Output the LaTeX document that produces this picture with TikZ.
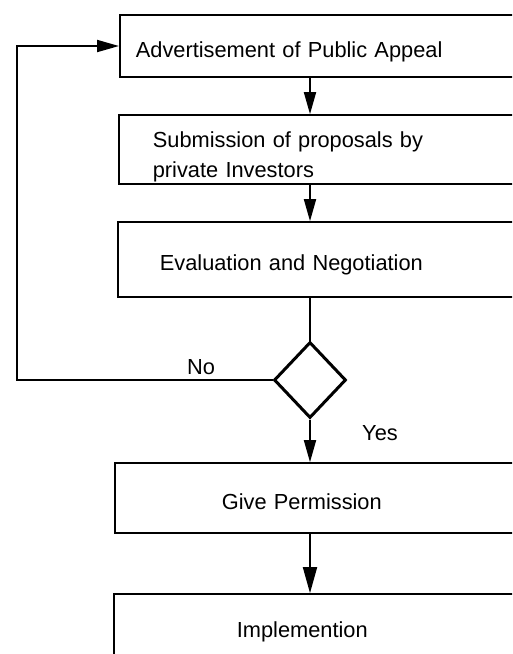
\documentclass[tikz,border=0pt]{standalone}
\usepackage{fontspec}
\setmainfont{Liberation Sans}
\usetikzlibrary{shapes.geometric,positioning,arrows.meta}

\begin{document}
\begin{tikzpicture}[x=1pt, y=-1pt, font=\fontsize{21.8}{30}\selectfont,
    box/.style={draw, rectangle, line width=1.7pt, anchor=west, align=left, text width=420pt, inner ysep=0pt},
    oneline/.style={text height=22pt, text depth=0pt},
    decision/.style={draw, diamond, line width=3pt, minimum width=72pt, minimum height=76pt, inner sep=0pt},
    flow/.style={line width=1.8pt, -{Triangle[length=22pt,width=12pt]}},
    plain/.style={line width=1.8pt}]
    \useasboundingbox (0,0) rectangle (512,654);
    \clip (0,0) rectangle (512,654);

    % Steps of the procedure
    \node[box, oneline, minimum height=62pt, inner xsep=16pt] (advert) at (119,46) {Advertisement of Public Appeal};
    \node[box, text height=31pt, minimum height=69pt, inner xsep=34pt] (submit) at (118,149.5) {Submission of proposals by\\private Investors};
    \node[box, oneline, minimum height=75pt, inner xsep=42pt] (evaluate) at (117,259.5) {Evaluation and Negotiation};
    \node[decision] (decide) at (310,380) {};
    \node[box, oneline, minimum height=70pt, inner xsep=107pt] (permit) at (114,498) {Give Permission};
    \node[box, oneline, minimum height=65pt, inner xsep=123pt] (implement) at (113,626.5) {Implemention};
    \coordinate (loopx) at (17,0);

    % Connectors
    \draw[flow] (decide |- advert.south) -- (decide |- submit.north);
    \draw[flow] (decide |- submit.south) -- (decide |- evaluate.north);
    \draw[plain] (decide |- evaluate.south) -- (decide.north);
    \draw[flow] (decide.south) -- node[pos=0.32, right=48pt] {Yes} (decide |- permit.north);
    \draw[flow, -{Triangle[length=26pt,width=14pt]}] (decide |- permit.south) -- (decide |- implement.north);
    \draw[flow] (decide.west) -- node[pos=0.28, above=1pt] {No} (decide.west -| loopx) |- (advert.west);
\end{tikzpicture}
\end{document}
